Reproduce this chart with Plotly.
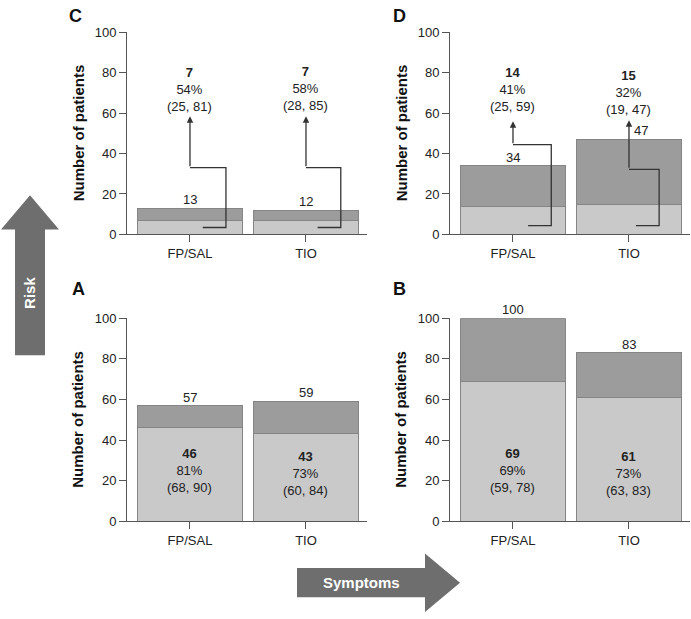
import plotly.graph_objects as go

# ---------------- data ----------------
treatments = ["FP/SAL", "TIO"]

# panel A (bottom-left)
a_totals = [57, 59]
a_resp = [46, 43]
a_pct = ["81%", "73%"]
a_ci = ["(68, 90)", "(60, 84)"]

# panel B (bottom-right)
b_totals = [100, 83]
b_resp = [69, 61]
b_pct = ["69%", "73%"]
b_ci = ["(59, 78)", "(63, 83)"]

# panel C (top-left)
c_totals = [13, 12]
c_resp = [7, 7]
c_pct = ["54%", "58%"]
c_ci = ["(25, 81)", "(28, 85)"]

# panel D (top-right)
d_totals = [34, 47]
d_resp = [14, 15]
d_pct = ["41%", "32%"]
d_ci = ["(25, 59)", "(19, 47)"]

yticks = [0, 20, 40, 60, 80, 100]

# ---------------- styling ----------------
W, H = 691, 619
FONT = "Liberation Sans, Arial, Helvetica, sans-serif"
LIGHT = "#c9c9c9"
DARK = "#9c9c9c"
EDGE = "#858585"
AXC = "#555555"
TXT = "#222222"
ARROW = "#6e6e6e"


def px(x):
    return x / W


def py(y):
    return 1 - y / H


xdom_left = [px(127), px(367)]
xdom_right = [px(450), px(690)]
ydom_top = [py(233), py(26)]
ydom_bot = [py(527), py(319)]
xrange_ = [-0.543, 1.526]

panels = {
    "C": ("x", "y", xdom_left, ydom_top, c_totals, c_resp, c_pct, c_ci),
    "D": ("x2", "y2", xdom_right, ydom_top, d_totals, d_resp, d_pct, d_ci),
    "A": ("x3", "y3", xdom_left, ydom_bot, a_totals, a_resp, a_pct, a_ci),
    "B": ("x4", "y4", xdom_right, ydom_bot, b_totals, b_resp, b_pct, b_ci),
}

fig = go.Figure()
annotations = []
shapes = []

for key, (xa, ya, xd, yd, totals, resp, pct, ci) in panels.items():
    xs = list(range(len(treatments)))
    rest = [t - r for t, r in zip(totals, resp)]
    fig.add_trace(go.Bar(x=xs, y=resp, width=0.9, marker=dict(color=LIGHT, line=dict(color=EDGE, width=1)),
                         xaxis=xa, yaxis=ya, hoverinfo="skip"))
    fig.add_trace(go.Bar(x=xs, y=rest, width=0.9, marker=dict(color=DARK, line=dict(color=EDGE, width=1)),
                         xaxis=xa, yaxis=ya, hoverinfo="skip"))
    for i, t in enumerate(totals):
        xshift = 12 if (key == "D" and i == 1) else 0
        annotations.append(dict(x=i, y=t, xref=xa, yref=ya, text=str(t), showarrow=False,
                                yanchor="bottom", xshift=xshift, yshift=-1,
                                font=dict(size=13, color=TXT, family=FONT)))

for key, ycent in (("A", [25, 23.5]), ("B", [25, 23.5])):
    xa, ya, _, _, totals, resp, pct, ci = panels[key]
    for i in range(len(treatments)):
        annotations.append(dict(x=i, y=ycent[i], xref=xa, yref=ya,
                                text=f"<b>{resp[i]}</b><br>{pct[i]}<br>{ci[i]}",
                                showarrow=False, yanchor="middle",
                                font=dict(size=13, color=TXT, family=FONT)))

conn = {
    "C": [(71.5, 0.11, 0.31, 3.4, 33.0, 58.5), (72.0, 0.10, 0.30, 3.4, 33.0, 58.5)],
    "D": [(71.5, 0.13, 0.33, 4.3, 44.4, 56.0), (70.0, 0.06, 0.26, 4.3, 32.2, 56.5)],
}
for key, specs in conn.items():
    xa, ya, _, _, totals, resp, pct, ci = panels[key]
    for i, (tc, dx1, dx2, y0, yc, yt) in enumerate(specs):
        annotations.append(dict(x=i, y=tc, xref=xa, yref=ya,
                                text=f"<b>{resp[i]}</b><br>{pct[i]}<br>{ci[i]}",
                                showarrow=False, yanchor="middle",
                                font=dict(size=13, color=TXT, family=FONT)))
        fig.add_trace(go.Scatter(x=[i + dx1, i + dx2, i + dx2, i], y=[y0, y0, yc, yc],
                                 mode="lines", line=dict(color="#333333", width=1.3),
                                 xaxis=xa, yaxis=ya, hoverinfo="skip"))
        annotations.append(dict(x=i, y=yt, ax=i, ay=yc, xref=xa, yref=ya,
                                axref=xa, ayref=ya, text="", showarrow=True,
                                arrowhead=2, arrowsize=1, arrowwidth=1.3,
                                arrowcolor="#333333", standoff=0, startstandoff=0))

for letter, (lx, ly) in {"C": (75, 9), "D": (399, 9), "A": (78, 289), "B": (399, 289)}.items():
    annotations.append(dict(x=px(lx), y=py(ly), xref="paper", yref="paper", text=f"<b>{letter}</b>",
                            showarrow=False, xanchor="center", yanchor="middle",
                            font=dict(size=18, color="#111111", family=FONT)))

for tx, ty in ((78, 129.5), (401, 129.5), (78, 423), (401, 423)):
    annotations.append(dict(x=px(tx), y=py(ty), xref="paper", yref="paper",
                            text="<b>Number of patients</b>", textangle=-90,
                            showarrow=False, xanchor="center", yanchor="middle",
                            font=dict(size=15, color="#111111", family=FONT)))


def poly(points):
    return "M " + " L ".join(f"{px(x):.5f},{py(y):.5f}" for x, y in points) + " Z"


shapes.append(dict(type="path", xref="paper", yref="paper",
                   path=poly([(15, 357), (45, 357), (45, 228), (59, 228), (30, 193), (1, 228), (15, 228)]),
                   fillcolor=ARROW, line=dict(width=0), layer="above"))
annotations.append(dict(x=px(30), y=py(293), xref="paper", yref="paper", text="<b>Risk</b>",
                        textangle=-90, showarrow=False, xanchor="center", yanchor="middle",
                        font=dict(size=15, color="white", family=FONT)))
shapes.append(dict(type="path", xref="paper", yref="paper",
                   path=poly([(297, 575), (425, 575), (425, 560), (460, 590), (425, 620), (425, 605), (297, 605)]),
                   fillcolor=ARROW, line=dict(width=0), layer="above"))
annotations.append(dict(x=px(362), y=py(590), xref="paper", yref="paper", text="<b>Symptoms</b>",
                        showarrow=False, xanchor="center", yanchor="middle",
                        font=dict(size=15, color="white", family=FONT)))

layout = dict(
    width=W, height=H, margin=dict(l=0, r=0, t=0, b=0),
    paper_bgcolor="white", plot_bgcolor="white",
    showlegend=False, barmode="stack",
    annotations=annotations, shapes=shapes,
    font=dict(family=FONT, size=13, color=TXT),
)
for key, (xa, ya, xd, yd, *_rest) in panels.items():
    xname = "xaxis" if xa == "x" else "xaxis" + xa[1:]
    yname = "yaxis" if ya == "y" else "yaxis" + ya[1:]
    layout[xname] = dict(domain=xd, anchor=ya, range=xrange_, tickvals=[0, 1], ticktext=treatments,
                         ticks="outside", ticklen=7, tickcolor=AXC, showline=True, linecolor=AXC,
                         linewidth=1, showgrid=False, zeroline=False, fixedrange=True,
                         tickfont=dict(size=13, color=TXT, family=FONT))
    layout[yname] = dict(domain=yd, anchor=xa, range=[0, 100], tickvals=yticks,
                         ticks="outside", ticklen=7, tickcolor=AXC, showline=True, linecolor=AXC,
                         linewidth=1, showgrid=False, zeroline=False, fixedrange=True,
                         tickfont=dict(size=13, color=TXT, family=FONT))

fig.update_layout(**layout)
fig.write_html("out.html", config={"displayModeBar": False},
               post_script="document.body.style.margin='0';document.body.style.overflow='hidden';")
